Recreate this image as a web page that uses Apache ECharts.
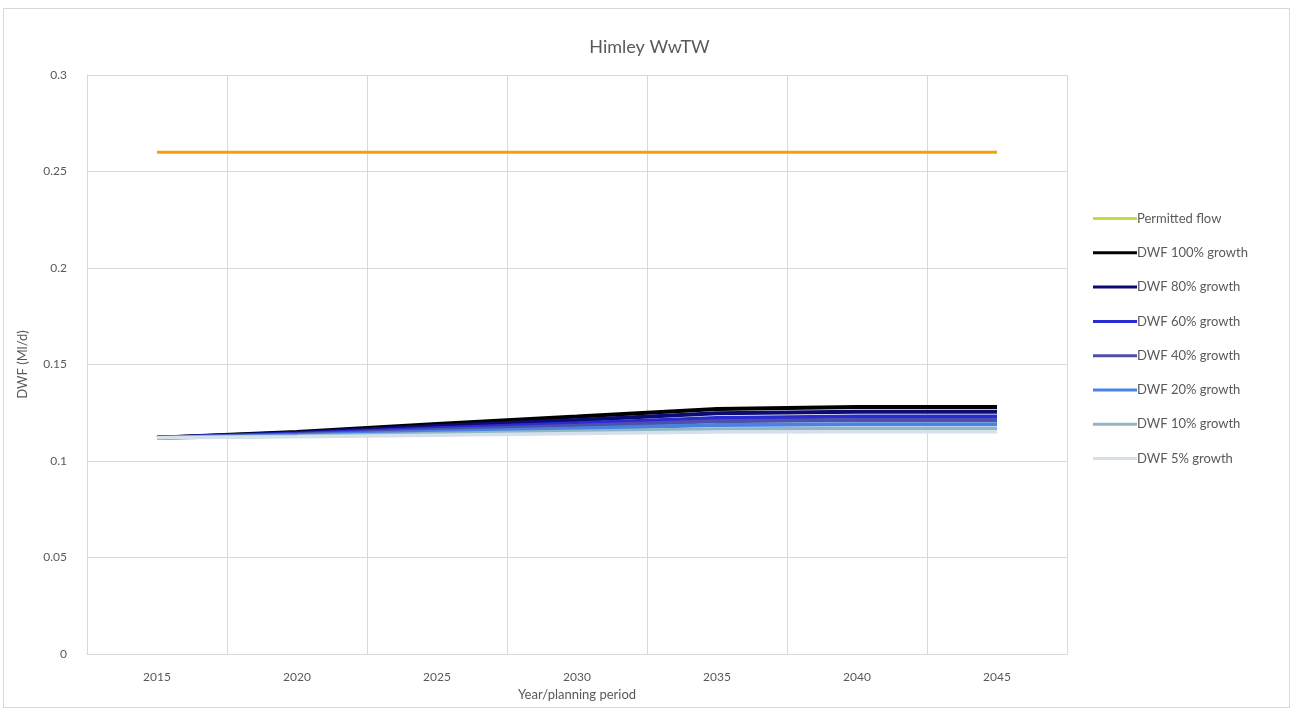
<!DOCTYPE html>
<html>
<head>
<meta charset="utf-8">
<title>Himley WwTW</title>
<script src="https://cdn.jsdelivr.net/npm/echarts@6/dist/echarts.min.js"></script>
<style>
  html, body { margin: 0; padding: 0; background: #ffffff; }
  #frame { position: absolute; left: 3px; top: 8px; width: 1287px; height: 700px; border: 1px solid #d9d9d9; box-sizing: border-box; }
  #chart { position: absolute; left: 0; top: 0; width: 1299px; height: 709px; }
</style>
</head>
<body>
<div id="frame"></div>
<div id="chart"></div>
<script>
// Planning years on the category axis
const years = ['2015', '2020', '2025', '2030', '2035', '2040', '2045'];

// Consented flow (Ml/d)
const permittedFlow = [0.26, 0.26, 0.26, 0.26, 0.26, 0.26, 0.26];

// Dry weather flow projections (Ml/d) under each growth scenario
const dwf100 = [0.112, 0.1150, 0.1192, 0.1230, 0.1270, 0.1280, 0.1280];
const dwf80  = [0.112, 0.1146, 0.1181, 0.1213, 0.1247, 0.1255, 0.1255];
const dwf60  = [0.112, 0.1141, 0.1170, 0.1196, 0.1223, 0.1230, 0.1230];
const dwf40  = [0.112, 0.1137, 0.1161, 0.1183, 0.1206, 0.1212, 0.1212];
const dwf20  = [0.112, 0.1133, 0.1152, 0.1168, 0.1186, 0.1190, 0.1190];
const dwf10  = [0.112, 0.1129, 0.1142, 0.1154, 0.1166, 0.1169, 0.1169];
const dwf5   = [0.112, 0.1126, 0.1134, 0.1142, 0.1150, 0.1152, 0.1152];

// Series names as shown in the legend
const seriesNames = [
  'Permitted flow', 'DWF 100% growth', 'DWF 80% growth', 'DWF 60% growth',
  'DWF 40% growth', 'DWF 20% growth', 'DWF 10% growth', 'DWF 5% growth'
];
const seriesData = [permittedFlow, dwf100, dwf80, dwf60, dwf40, dwf20, dwf10, dwf5];
const lineColors = ['#f5a00a', '#000000', '#0b0b70', '#2b2bd2', '#4f50aa', '#4a82e2', '#8fb7c4', '#d6e0ea'];
const legendColors = ['#c5dc3a', '#000000', '#0b0b70', '#2b2bd2', '#4f50aa', '#4a82e2', '#8fb7c4', '#d6e0ea'];
const lineWidths = [3, 4, 4, 4, 4, 4, 3.5, 3.5];

// Y-axis tick values
const yTicks = [0, 0.05, 0.1, 0.15, 0.2, 0.25, 0.3];

const textColor = '#595959';
const gridColor = '#d9d9d9';
const fontFamily = 'Lato, "Open Sans", sans-serif';

const chart = echarts.init(document.getElementById('chart'), null, { renderer: 'canvas' });

chart.setOption({
  backgroundColor: 'transparent',
  animation: false,
  textStyle: { fontFamily: fontFamily },
  title: {
    text: 'Himley WwTW',
    left: 'center',
    top: 33,
    textStyle: { fontFamily: fontFamily, fontSize: 18, fontWeight: 'normal', color: textColor }
  },
  legend: {
    orient: 'vertical',
    left: 1088,
    top: 207,
    itemWidth: 44,
    itemHeight: 12,
    itemGap: 21.3,
    icon: 'path://M0,4.5 L44,4.5 L44,7.5 L0,7.5 Z',
    textStyle: { fontFamily: fontFamily, fontSize: 13, color: textColor, padding: [0, 0, 0, -5] },
    data: seriesNames.map((n, i) => ({
      name: n,
      itemStyle: { color: legendColors[i] }
    }))
  },
  grid: { left: 87, right: 232, top: 75, bottom: 55, containLabel: false },
  xAxis: {
    type: 'category',
    data: years,
    boundaryGap: true,
    name: 'Year/planning period',
    nameLocation: 'middle',
    nameGap: 31,
    nameTextStyle: { fontFamily: fontFamily, fontSize: 13, color: textColor },
    axisLine: { show: true, lineStyle: { color: gridColor, width: 1 } },
    axisTick: { show: false },
    axisLabel: { fontFamily: fontFamily, fontSize: 12, color: textColor, margin: 17 },
    splitLine: { show: true, lineStyle: { color: gridColor, width: 1 } }
  },
  yAxis: {
    type: 'value',
    min: yTicks[0],
    max: yTicks[yTicks.length - 1],
    interval: 0.05,
    name: 'DWF (Ml/d)',
    nameLocation: 'middle',
    nameGap: 58,
    nameTextStyle: { fontFamily: fontFamily, fontSize: 13, color: textColor },
    axisLine: { show: true, lineStyle: { color: gridColor, width: 1 } },
    axisTick: { show: false },
    axisLabel: {
      fontFamily: fontFamily, fontSize: 12, color: textColor, margin: 20,
      formatter: v => String(parseFloat(v.toFixed(2)))
    },
    splitLine: { show: true, lineStyle: { color: gridColor, width: 1 } }
  },
  series: seriesNames.map((n, i) => ({
    name: n,
    type: 'line',
    data: seriesData[i],
    showSymbol: false,
    symbol: 'none',
    smooth: false,
    z: 2 + i,
    color: lineColors[i],
    lineStyle: { color: lineColors[i], width: lineWidths[i] }
  }))
});
</script>
</body>
</html>
